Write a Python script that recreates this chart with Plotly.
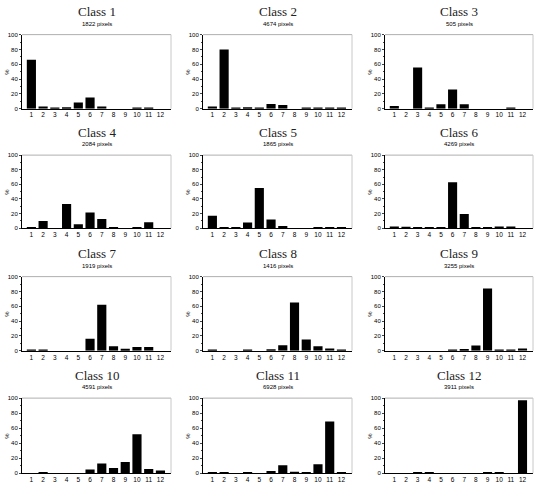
import plotly.graph_objects as go

W, H = 539, 492

categories = list(range(1, 13))
tick_labels = [str(c) for c in categories]
class_names = [f"Class {i}" for i in range(1, 13)]
pixel_counts = [1822, 4674, 505, 2084, 1865, 4269, 1919, 1416, 3255, 4591, 6928, 3911]

class1 = [66, 3, 0.6, 2, 8.5, 15, 3, 0, 0, 0.6, 0.8, 0]
class2 = [3, 80, 0.3, 2, 1, 6.5, 5, 0, 0.3, 1.5, 0.7, 0.4]
class3 = [3.5, 0, 55.5, 1, 6, 26, 6, 0, 0, 0, 0.5, 0]
class4 = [1, 10, 0, 33, 5.5, 21.5, 12.5, 0.7, 0, 1.5, 8, 0]
class5 = [17, 0.5, 0.3, 7.7, 55, 12, 3, 0, 0, 0.3, 0.3, 0.3]
class6 = [2.5, 2, 0.5, 1, 1, 63, 19.5, 1, 0.5, 2.5, 2.5, 0]
class7 = [1, 1, 0, 0, 0, 16, 62, 6, 2.5, 5, 5, 0]
class8 = [0.5, 0, 0, 0.3, 0, 2, 7.5, 65, 15, 6, 3, 0.3]
class9 = [0, 0, 0, 0, 0, 0.3, 2.3, 7, 84, 1.5, 0.5, 3]
class10 = [0, 0.7, 0, 0, 0, 5, 13, 7, 15, 52, 5.5, 3.5]
class11 = [0.5, 0.5, 0, 0.5, 0, 3, 10.5, 2, 0.7, 12, 69, 0.5]
class12 = [0, 0, 0.5, 0.5, 0, 0, 0, 0, 1.5, 0.5, 0, 97]

series = [class1, class2, class3, class4, class5, class6,
          class7, class8, class9, class10, class11, class12]

col_px = [(22, 171), (203, 352), (385, 533)]
row_px = [(32, 107), (154, 228), (277, 352), (400, 476)]

fig = go.Figure()
layout = dict(
    width=W, height=H, margin=dict(l=0, r=0, t=0, b=0),
    paper_bgcolor="white", plot_bgcolor="white", showlegend=False,
    font=dict(family="Liberation Sans", color="black"),
)
annotations = []
shapes = []

for i, vals in enumerate(series):
    r, c = divmod(i, 3)
    x0, x1 = col_px[c]
    y0, y1 = row_px[r]
    n = i + 1
    xa = "x" if n == 1 else f"x{n}"
    ya = "y" if n == 1 else f"y{n}"
    fig.add_trace(go.Bar(x=categories, y=vals, xaxis=xa, yaxis=ya,
                         marker=dict(color="black", line=dict(width=0)),
                         width=0.78))
    layout["xaxis" if n == 1 else f"xaxis{n}"] = dict(
        domain=[x0 / W, x1 / W], anchor=ya, range=[0.2, 12.9],
        tickmode="array", tickvals=categories, ticktext=tick_labels,
        showgrid=False, zeroline=False, showline=True, linecolor="black",
        linewidth=1, ticks="", tickfont=dict(size=6.5), ticklen=0,
    )
    layout["yaxis" if n == 1 else f"yaxis{n}"] = dict(
        domain=[1 - y1 / H, 1 - y0 / H], anchor=xa, range=[0, 100],
        tickvals=[0, 20, 40, 60, 80, 100], showgrid=False, zeroline=False,
        showline=True, linecolor="black", linewidth=1, ticks="outside",
        ticklen=2, tickwidth=0.8, tickfont=dict(size=6),
        minor=dict(dtick=10, ticks="outside", ticklen=1.5, tickwidth=0.6),
    )
    shapes.append(dict(type="line", xref=f"{xa} domain", yref=f"{ya} domain",
                       x0=0, x1=1, y0=1, y1=1,
                       line=dict(color="#b0b0b0", width=1)))
    shapes.append(dict(type="line", xref=f"{xa} domain", yref=f"{ya} domain",
                       x0=1, x1=1, y0=0, y1=1,
                       line=dict(color="#c8c8c8", width=1)))
    cx = (x0 + x1) / 2 / W
    annotations.append(dict(text=class_names[i], x=cx, y=1 - (y0 - 23) / H,
                            xref="paper", yref="paper", showarrow=False,
                            xanchor="center", yanchor="middle",
                            font=dict(family="Liberation Serif", weight="normal",
                                      size=13, color="#222222")))
    annotations.append(dict(text=f"{pixel_counts[i]} pixels", x=cx,
                            y=1 - (y0 - 11) / H, xref="paper", yref="paper",
                            showarrow=False, xanchor="center", yanchor="middle",
                            font=dict(size=6, color="black")))
    annotations.append(dict(text="%", x=(x0 - 15) / W, y=1 - ((y0 + y1) / 2) / H,
                            xref="paper", yref="paper", showarrow=False,
                            textangle=-90, xanchor="center", yanchor="middle",
                            font=dict(size=6, color="black")))

layout["annotations"] = annotations
layout["shapes"] = shapes
fig.update_layout(**layout)
fig.write_html("out.html")
